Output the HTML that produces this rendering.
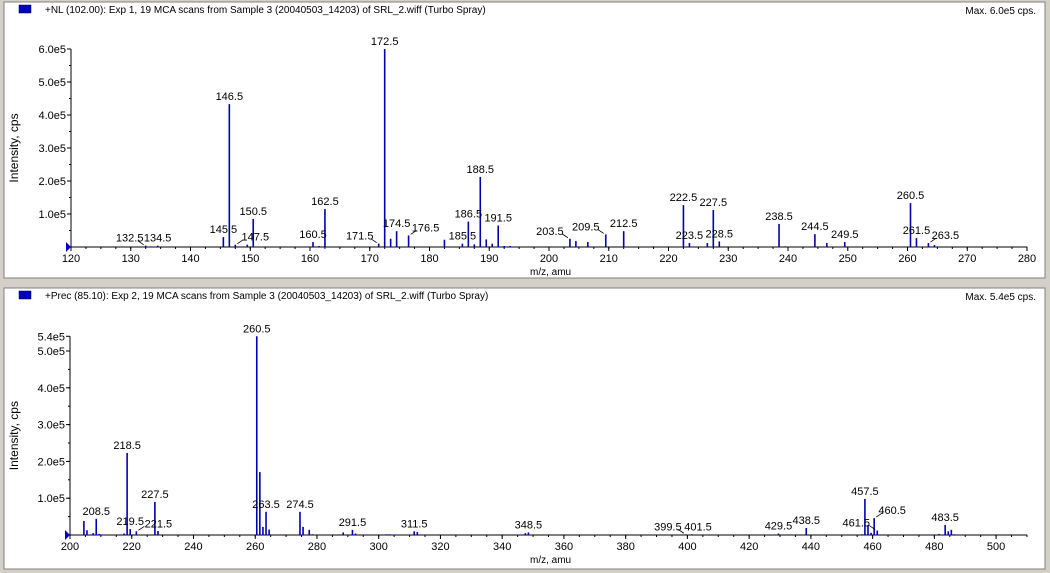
<!DOCTYPE html>
<html><head><meta charset="utf-8"><style>
html,body{margin:0;padding:0;background:#d4d0c8;width:1050px;height:573px;overflow:hidden}
svg{display:block;font-family:"Liberation Sans",sans-serif}
</style></head><body>
<svg id="chart" width="1050" height="573" xmlns="http://www.w3.org/2000/svg"></svg>
<script>
// Top panel data (NL 102.00)
const topMz = [132.5,134.5,145.5,146.5,147.5,149.5,150.5,160.5,161.5,162.5,171.5,172.5,173.5,174.5,176.5,182.5,185.5,186.5,187.5,188.5,189.5,190.5,191.5,192.5,193.5,203.5,204.5,206.5,209.5,212.5,217.5,222.5,223.5,226.5,227.5,228.5,238.5,239.5,244.5,246.5,249.5,260.5,261.5,263.5,264.5];
const topInt = [0.04,0.04,0.3,4.33,0.07,0.07,0.85,0.15,0.03,1.15,0.1,6.0,0.25,0.48,0.35,0.22,0.1,0.77,0.08,2.12,0.23,0.1,0.65,0.03,0.03,0.25,0.18,0.15,0.38,0.48,0.02,1.27,0.12,0.12,1.12,0.17,0.7,0.02,0.39,0.12,0.15,1.33,0.27,0.12,0.06];
const topLabels = ["132.5","134.5","145.5","146.5","147.5","150.5","160.5","162.5","171.5","172.5","174.5","176.5","185.5","186.5","188.5","191.5","203.5","209.5","212.5","222.5","223.5","227.5","228.5","238.5","244.5","249.5","260.5","261.5","263.5"];
const topXTicks = [120,130,140,150,160,170,180,190,200,210,220,230,240,250,260,270,280];
const topYTicks = [1,2,3,4,5,6];
// Bottom panel data (Prec 85.10)
const botMz = [204.5,205.5,207.5,208.5,209.5,217.5,218.5,219.5,221.5,227.5,228.5,260.5,261.5,262.5,263.5,264.5,274.5,275.5,277.5,278.5,288.5,291.5,292.5,302.5,303.5,311.5,312.5,347.5,348.5,399.5,401.5,429.5,438.5,456.5,457.5,458.5,459.5,460.5,461.5,481.5,483.5,484.5,485.5,486.5];
const botInt = [0.38,0.13,0.05,0.44,0.03,0.04,2.23,0.16,0.1,0.9,0.11,5.4,1.71,0.22,0.63,0.15,0.63,0.22,0.14,0.02,0.07,0.14,0.04,0.02,0.02,0.1,0.08,0.05,0.07,0.02,0.02,0.04,0.19,0.02,0.98,0.27,0.06,0.46,0.12,0.03,0.27,0.1,0.14,0.02];
const botLabels = ["208.5","218.5","219.5","221.5","227.5","260.5","263.5","274.5","291.5","311.5","348.5","399.5","401.5","429.5","438.5","457.5","460.5","461.5","483.5"];
const botXTicks = [200,220,240,260,280,300,320,340,360,380,400,420,440,460,480,500];
const botYTicks = [1,2,3,4,5,5.4];
// label displacement (pixels) for crowded labels — layout only
const topShift = {"132.5":-16,"147.5":20,"171.5":-19,"176.5":17,"203.5":-20,"209.5":-20,"263.5":17};
const botShift = {"221.5":22,"399.5":-18,"401.5":6,"461.5":-21,"460.5":18};

const NS="http://www.w3.org/2000/svg";
const svg=document.getElementById('chart');
function mk(tag,attrs,parent){const e=document.createElementNS(NS,tag);for(const k in attrs)e.setAttribute(k,attrs[k]);(parent||svg).appendChild(e);return e;}
function txt(s,attrs,parent){const e=mk('text',Object.assign({'font-size':11,fill:'#000'},attrs),parent);e.textContent=s;return e;}

function panel(cfg){
  const g=mk('g',{});
  
  
  const bg=mk('rect',{x:cfg.px,y:cfg.py,width:cfg.pw,height:cfg.ph,fill:'#fff',stroke:'#808080','stroke-width':1},g);
  
  
  const lg=mk('rect',{x:19,y:cfg.py+3,width:12,height:8,fill:'#0000c0',stroke:'#000040','stroke-width':0.5},g);
  
  
  const t=txt(cfg.title,{x:45,y:cfg.py+11,'font-size':10},g);
  
  
  const m=txt(cfg.max,{x:1036,y:cfg.py+12,'font-size':10,'text-anchor':'end'},g);
  
  
  const X=v=>cfg.x0+(v-cfg.xmin)*cfg.xs;
  const Y=v=>cfg.y0-v*cfg.ys;
  const ya=mk('line',{x1:cfg.x0,y1:cfg.y0,x2:cfg.x0,y2:Y(cfg.ymax),stroke:'#000'},g);
  
  
  for(let v=0.5;v<=cfg.ymax+1e-6;v+=0.5){mk('line',{x1:cfg.x0-2,y1:Y(v),x2:cfg.x0,y2:Y(v),stroke:'#000'},g);}
  cfg.yt.forEach(v=>{
    mk('line',{x1:cfg.x0-4,y1:Y(v),x2:cfg.x0,y2:Y(v),stroke:'#000'},g);
    const l=txt(v.toFixed(1)+'e5',{x:cfg.x0-5,y:Y(v)+4,'text-anchor':'end'},g);
    
    
  });
  const yl=txt('Intensity, cps',{x:0,y:0,'font-size':12,'text-anchor':'middle',transform:`translate(18,${(cfg.y0+Y(cfg.ymax))/2}) rotate(-90)`},g);
  
  
  const xa=mk('line',{x1:cfg.x0,y1:cfg.y0,x2:cfg.xend,y2:cfg.y0,stroke:'#000'},g);
  
  
  for(let v=cfg.xmin;X(v)<=cfg.xend+0.5;v+=cfg.minor){mk('line',{x1:X(v),y1:cfg.y0,x2:X(v),y2:cfg.y0+2,stroke:'#000'},g);}
  cfg.xt.forEach(v=>{
    mk('line',{x1:X(v),y1:cfg.y0,x2:X(v),y2:cfg.y0+4,stroke:'#000'},g);
    const l=txt(String(v),{x:X(v),y:cfg.y0+15,'text-anchor':'middle'},g);
    
    
  });
  const xl=txt('m/z, amu',{x:530,y:cfg.y0+28,'font-size':10},g);
  
  
  const tri=mk('path',{d:`M${cfg.x0-5},${cfg.y0-5} L${cfg.x0},${cfg.y0} L${cfg.x0-5},${cfg.y0+5} Z`,fill:'#0000c0'},g);
  
  
  cfg.mz.forEach((mz,i)=>{
    const p=mk('line',{x1:X(mz),y1:cfg.y0,x2:X(mz),y2:Y(cfg.int[i]),stroke:'#0000b0','stroke-width':1.6},g);
    
    
  });
  cfg.labels.forEach(s=>{
    const mz=parseFloat(s);const i=cfg.mz.indexOf(mz);
    const v=i>=0?cfg.int[i]:0;
    const dx=cfg.shift[s]||0;
    const px=X(mz),py=Y(v);
    const l=txt(s,{x:px+dx,y:py-4,'text-anchor':'middle'},g);
    
    
    if(Math.abs(dx)>10){
      const sg=dx>0?1:-1;
      const ld=mk('line',{x1:px+sg*2,y1:py-1,x2:px+sg*8,y2:py-5,stroke:'#000','stroke-width':0.8},g);
      
      
    }
  });
}
panel({name:'top-panel',px:4,py:2,pw:1041,ph:276,title:'+NL (102.00): Exp 1, 19 MCA scans from Sample 3 (20040503_14203) of SRL_2.wiff (Turbo Spray)',max:'Max. 6.0e5 cps.',
  x0:71,y0:247,xmin:120,xs:5.975,xend:1027,ys:33,ymax:6,minor:2.5,xt:topXTicks,yt:topYTicks,mz:topMz,int:topInt,labels:topLabels,shift:topShift});
panel({name:'bottom-panel',px:4,py:288,pw:1041,ph:281,title:'+Prec (85.10): Exp 2, 19 MCA scans from Sample 3 (20040503_14203) of SRL_2.wiff (Turbo Spray)',max:'Max. 5.4e5 cps.',
  x0:70,y0:535,xmin:200,xs:3.087,xend:1027,ys:36.8,ymax:5.4,minor:5,xt:botXTicks,yt:botYTicks,mz:botMz,int:botInt,labels:botLabels,shift:botShift});
</script>
</body></html>
